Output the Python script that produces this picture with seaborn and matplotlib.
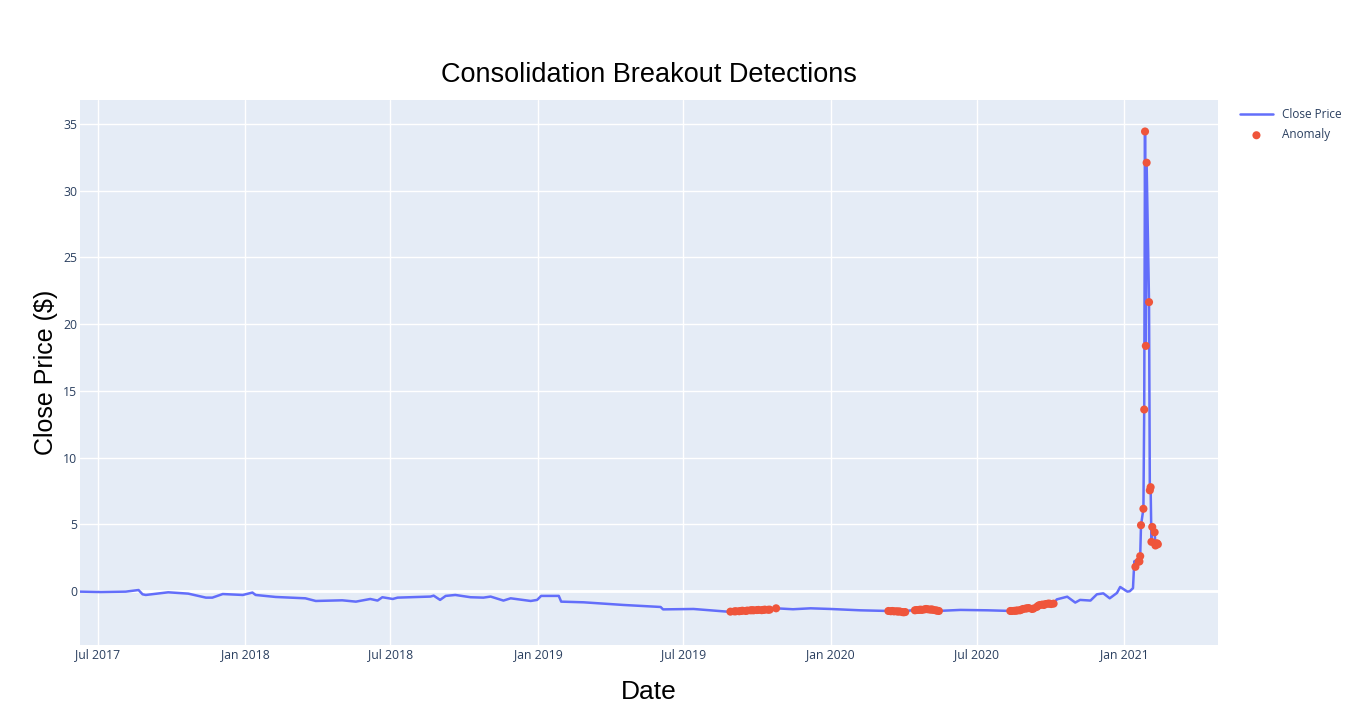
import matplotlib
matplotlib.use("Agg")
import pandas as pd
import seaborn as sns
import matplotlib.pyplot as plt
import matplotlib.dates as mdates

# 終値(標準化済み)の折れ線 - 画像から読み取った主要点
line_dates = [
    "2017-06-09", "2017-07-05", "2017-08-05", "2017-08-21", "2017-08-26", "2017-08-30",
    "2017-09-27", "2017-10-22", "2017-11-13", "2017-11-21", "2017-12-04", "2017-12-29",
    "2018-01-10", "2018-01-14", "2018-02-08", "2018-03-17", "2018-03-30", "2018-05-02",
    "2018-05-19", "2018-06-06", "2018-06-15", "2018-06-21", "2018-07-04", "2018-07-10",
    "2018-08-20", "2018-08-24", "2018-09-01", "2018-09-08", "2018-09-20", "2018-10-09",
    "2018-10-25", "2018-11-03", "2018-11-19", "2018-11-28", "2018-12-23", "2018-12-31",
    "2019-01-05", "2019-01-27", "2019-01-30", "2019-02-27", "2019-04-18", "2019-06-03",
    "2019-06-06", "2019-07-14", "2019-08-25",
    "2019-11-15", "2019-12-07", "2020-01-01", "2020-02-07", "2020-03-10",
    "2020-04-08", "2020-04-13", "2020-05-20", "2020-06-11", "2020-07-15", "2020-08-10",
    "2020-10-09", "2020-10-22", "2020-11-01", "2020-11-07", "2020-11-20", "2020-11-28",
    "2020-12-06", "2020-12-14", "2020-12-23", "2020-12-27", "2021-01-05", "2021-01-08",
    "2021-01-12", "2021-01-13", "2021-01-14",
]
line_values = [
    -0.05, -0.08, -0.05, 0.07, -0.25, -0.30,
    -0.10, -0.20, -0.50, -0.50, -0.23, -0.30,
    -0.12, -0.30, -0.45, -0.55, -0.75, -0.70,
    -0.80, -0.60, -0.72, -0.47, -0.60, -0.50,
    -0.42, -0.35, -0.67, -0.37, -0.30, -0.47,
    -0.50, -0.42, -0.72, -0.55, -0.75, -0.67,
    -0.37, -0.37, -0.80, -0.85, -1.05, -1.20,
    -1.38, -1.35, -1.55,
    -1.37, -1.30, -1.35, -1.45, -1.50,
    -1.47, -1.45, -1.48, -1.42, -1.45, -1.50,
    -0.63, -0.43, -0.87, -0.67, -0.72, -0.25,
    -0.18, -0.55, -0.15, 0.30, -0.05, -0.02,
    0.21, 1.45, 2.25,
]

# 異常検知された点
anomaly_dates = [
    # 2019年秋
    "2019-08-29", "2019-09-03", "2019-09-05", "2019-09-09", "2019-09-11", "2019-09-13",
    "2019-09-17", "2019-09-19", "2019-09-23", "2019-09-25", "2019-09-27", "2019-10-01",
    "2019-10-03", "2019-10-07", "2019-10-09", "2019-10-11", "2019-10-15", "2019-10-17",
    "2019-10-25",
    # 2020年3月
    "2020-03-13", "2020-03-16", "2020-03-18", "2020-03-20", "2020-03-23", "2020-03-25",
    "2020-03-27", "2020-03-30", "2020-04-01", "2020-04-03",
    # 2020年4-5月
    "2020-04-15", "2020-04-17", "2020-04-20", "2020-04-22", "2020-04-24", "2020-04-27",
    "2020-04-29", "2020-05-01", "2020-05-04", "2020-05-06", "2020-05-08", "2020-05-11",
    "2020-05-13", "2020-05-15",
    # 2020年8-10月
    "2020-08-12", "2020-08-14", "2020-08-17", "2020-08-19", "2020-08-21", "2020-08-24",
    "2020-08-26", "2020-08-28", "2020-08-31", "2020-09-02", "2020-09-04", "2020-09-08",
    "2020-09-10", "2020-09-14", "2020-09-16", "2020-09-18", "2020-09-21", "2020-09-23",
    "2020-09-25", "2020-09-28", "2020-09-30", "2020-10-02", "2020-10-05",
    # 2021年1-2月の急騰
    "2021-01-15", "2021-01-19", "2021-01-20", "2021-01-21", "2021-01-22", "2021-01-25",
    "2021-01-26", "2021-01-27", "2021-01-28", "2021-01-29", "2021-02-01", "2021-02-02",
    "2021-02-03", "2021-02-04", "2021-02-05", "2021-02-08", "2021-02-09", "2021-02-10",
    "2021-02-11", "2021-02-12",
]
anomaly_values = [
    -1.55, -1.53, -1.52, -1.52, -1.50, -1.48,
    -1.50, -1.47, -1.45, -1.44, -1.45, -1.43,
    -1.42, -1.44, -1.42, -1.40, -1.41, -1.40,
    -1.30,
    -1.50, -1.52, -1.50, -1.53, -1.52, -1.55,
    -1.53, -1.58, -1.60, -1.58,
    -1.45, -1.43, -1.42, -1.40, -1.42, -1.38,
    -1.35, -1.37, -1.40, -1.38, -1.42, -1.45,
    -1.48, -1.50,
    -1.50, -1.50, -1.49, -1.48, -1.46, -1.45,
    -1.40, -1.35, -1.32, -1.30, -1.28, -1.35,
    -1.32, -1.20, -1.10, -1.05, -1.02, -1.05,
    -0.98, -0.95, -0.95, -0.98, -0.95,
    1.81, 2.21, 2.21, 2.61, 4.93, 6.16,
    13.60, 34.44, 18.37, 32.10, 21.65, 7.54,
    7.78, 3.68, 4.80, 4.40, 3.41, 3.55,
    3.57, 3.50,
]

anomaly_df = pd.DataFrame({"Date": pd.to_datetime(anomaly_dates), "Close": anomaly_values})
# 異常点も終値系列の一部なので折れ線に含める
line_df = pd.concat([
    pd.DataFrame({"Date": pd.to_datetime(line_dates), "Close": line_values}),
    anomaly_df,
]).sort_values("Date")

sns.set_theme(style="darkgrid", rc={
    "axes.facecolor": "#E5ECF6",
    "grid.color": "white",
    "grid.linewidth": 1.0,
    "figure.facecolor": "white",
})
plt.rcParams["font.family"] = ["Open Sans", "DejaVu Sans"]

fig = plt.figure(figsize=(13.62, 7.24), dpi=100)
ax = fig.add_axes([80 / 1362, 79 / 724, 1138 / 1362, 545 / 724])

ax.axhline(0, color="white", linewidth=2, zorder=1)

sns.lineplot(data=line_df, x="Date", y="Close", ax=ax, color="#636EFA",
             linewidth=1.8, label="Close Price", zorder=3)
sns.scatterplot(data=anomaly_df, x="Date", y="Close", ax=ax, color="#EF553B",
                s=34, edgecolor="none", label="Anomaly", zorder=4)

ax.set_xlim(pd.Timestamp("2017-06-09"), pd.Timestamp("2021-04-28"))
ax.set_ylim(-4.05, 36.8)
ax.set_yticks([0, 5, 10, 15, 20, 25, 30, 35])
ax.xaxis.set_major_locator(mdates.MonthLocator(bymonth=[1, 7]))
ax.xaxis.set_major_formatter(mdates.DateFormatter("%b %Y"))
ax.tick_params(axis="both", length=0, labelsize=8.8, colors="#2a3f5f")
ax.tick_params(axis="x", pad=2)
ax.tick_params(axis="y", pad=2)
for s in ax.spines.values():
    s.set_visible(False)

ax.set_xlabel("Date", fontsize=19, family=["Liberation Sans", "DejaVu Sans"],
              color="black", labelpad=14)
ax.set_ylabel("Close Price ($)", fontsize=18, family=["Liberation Sans", "DejaVu Sans"],
              color="black", labelpad=4)
ax.set_title("Consolidation Breakout Detections", fontsize=19.5,
             family=["Liberation Sans", "DejaVu Sans"], color="black", pad=13)

leg = ax.legend(loc="upper left", bbox_to_anchor=(1.012, 1.0), frameon=False,
                fontsize=8.5, handlelength=2.8, labelspacing=0.6, borderaxespad=0.3)
for t in leg.get_texts():
    t.set_color("#2a3f5f")

plt.savefig("out.png", dpi=100)
plt.close()
